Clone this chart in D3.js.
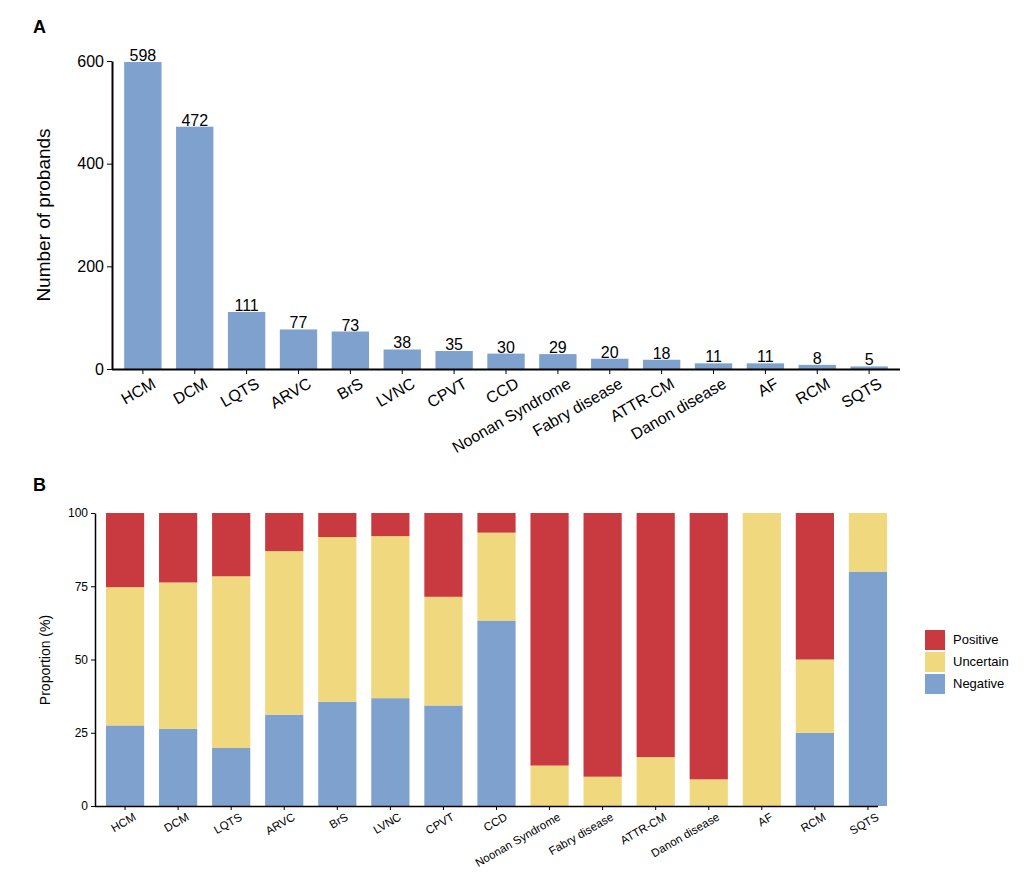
<!DOCTYPE html>
<html><head><meta charset="utf-8">
<script src="https://cdn.jsdelivr.net/npm/d3@7"></script>
<style>body{margin:0;background:#fff;font-family:Arial,"Liberation Sans",sans-serif}</style>
</head><body><svg id="chart" width="1024" height="890"></svg>
<script>
var categories = ["HCM","DCM","LQTS","ARVC","BrS","LVNC","CPVT","CCD","Noonan Syndrome","Fabry disease","ATTR-CM","Danon disease","AF","RCM","SQTS"];
var probands = [598,472,111,77,73,38,35,30,29,20,18,11,11,8,5];
var negative = [27.5,26.3,19.8,31.2,35.6,36.8,34.3,63.3,0,0,0,0,0,25,80];
var uncertain = [47.2,50.0,58.6,55.8,56.2,55.3,37.1,30.0,13.8,10,16.7,9.1,100,25,20];
var positive = categories.map(function(c,i){ return Math.max(0, 100 - negative[i] - uncertain[i]); });
var yTicksA = [0,200,400,600];
var yTicksB = [0,25,50,75,100];
var colors = {Positive:"#c93a40", Uncertain:"#f0d87e", Negative:"#7ea1cd"};

var svg = d3.select("#chart");

// Panel A
var xA = d3.scaleBand().domain(categories).range([119,893]).paddingInner(0.28).paddingOuter(0.1);
var yA = d3.scaleLinear().domain([0,600]).range([369,61]);
var gA = svg.append("g");
gA.selectAll("rect").data(categories).enter().append("rect")
  .attr("x", function(d){ return xA(d); }).attr("width", xA.bandwidth())
  .attr("y", function(d,i){ return yA(probands[i]); })
  .attr("height", function(d,i){ return yA(0) - yA(probands[i]); })
  .attr("fill", colors.Negative);
gA.selectAll("text.v").data(categories).enter().append("text")
  .attr("x", function(d){ return xA(d) + xA.bandwidth()/2; })
  .attr("y", function(d,i){ return yA(probands[i]) - 1; })
  .attr("text-anchor","middle").attr("font-size",16).text(function(d,i){ return probands[i]; });
var axA = gA.append("g").attr("transform","translate(0,369)")
  .call(d3.axisBottom(xA).tickSize(5).tickSizeOuter(0));
axA.select(".domain").attr("d","M112,0.5H900").attr("stroke-width",2);
axA.selectAll("text").attr("font-size",16).attr("text-anchor","end")
  .attr("transform","rotate(-30)").attr("dx","0.2em").attr("dy","0.9em");
var ayA = gA.append("g").attr("transform","translate(112,0)")
  .call(d3.axisLeft(yA).tickValues(yTicksA).tickSize(5).tickSizeOuter(0));
ayA.select(".domain").attr("stroke-width",2);
ayA.selectAll("text").attr("font-size",16);
gA.append("text").attr("transform","translate(50,215) rotate(-90)").attr("text-anchor","middle")
  .attr("font-size",19).text("Number of probands");
svg.append("text").attr("x",33).attr("y",33).attr("font-size",18).attr("font-weight","bold").text("A");

// Panel B
var xB = d3.scaleBand().domain(categories).range([98,895]).paddingInner(0.28).paddingOuter(0.15);
var yB = d3.scaleLinear().domain([0,100]).range([806,513]);
var series = [["Negative",negative],["Uncertain",uncertain],["Positive",positive]];
var gB = svg.append("g");
series.forEach(function(s, si){
  gB.selectAll("rect.s"+si).data(categories).enter().append("rect")
    .attr("x", function(d){ return xB(d); }).attr("width", xB.bandwidth())
    .attr("y", function(d,i){
      var base = 0; for (var k=0;k<si;k++) base += series[k][1][i];
      return yB(base + s[1][i]); })
    .attr("height", function(d,i){ return yB(0) - yB(s[1][i]); })
    .attr("fill", colors[s[0]]);
});
var axB = gB.append("g").attr("transform","translate(0,806)")
  .call(d3.axisBottom(xB).tickSize(4).tickSizeOuter(0));
axB.select(".domain").attr("d","M95,0.5H878").attr("stroke-width",1.5);
axB.selectAll("text").attr("font-size",11.5).attr("text-anchor","end")
  .attr("transform","rotate(-30)").attr("dx","0.3em").attr("dy","0.9em");
var ayB = gB.append("g").attr("transform","translate(95,0)")
  .call(d3.axisLeft(yB).tickValues(yTicksB).tickSize(4).tickSizeOuter(0));
ayB.select(".domain").attr("stroke-width",1.5);
ayB.selectAll("text").attr("font-size",12);
gB.append("text").attr("transform","translate(50,660) rotate(-90)").attr("text-anchor","middle")
  .attr("font-size",14).text("Proportion (%)");
svg.append("text").attr("x",33).attr("y",491).attr("font-size",18).attr("font-weight","bold").text("B");

var leg = svg.append("g");
["Positive","Uncertain","Negative"].forEach(function(k,i){
  leg.append("rect").attr("x",925).attr("y",630+i*22).attr("width",20).attr("height",20).attr("fill",colors[k]);
  leg.append("text").attr("x",953).attr("y",644+i*22).attr("font-size",13).text(k);
});
</script></body></html>
